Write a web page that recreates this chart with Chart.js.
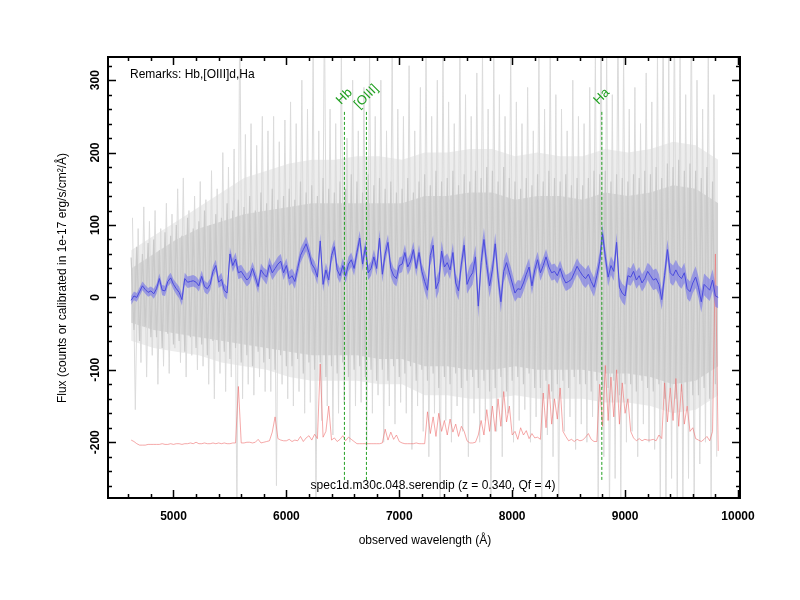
<!DOCTYPE html>
<html>
<head>
<meta charset="utf-8">
<script src="https://cdn.jsdelivr.net/npm/chart.js@4"></script>
<style>
  body { margin: 0; background: #fff; }
</style>
</head>
<body>
<canvas id="spec" width="800" height="600"></canvas>
<script>
// 1-d spectrum grid: first wavelength and step (Angstrom)
const WAVE_START = 4625;
const WAVE_STEP = 25;

// smoothed flux (blue), one value per grid step, 8 per row = 200 A
const smoothFlux = [
  -4, 2, 0, 8, 16, 11, 7, 9,
  5, 12, 26, 10, 9, 22, 27, 18,
  12, 7, -3, 26, 21, 22, 23, 21,
  16, 29, 15, 12, 18, 36, 44, 21,
  25, 10, 6, 60, 44, 53, 34, 36,
  30, 24, 28, 40, 28, 15, 38, 32,
  28, 45, 34, 40, 46, 50, 34, 44,
  26, 30, 22, 40, 58, 66, 74, 62,
  46, 40, 28, 78, 18, 38, 24, 58,
  70, 38, 30, 44, 30, 46, 52, 40,
  62, 82, 46, 70, 34, 40, 56, 40,
  82, 32, 60, 76, 40, 30, 26, 44,
  46, 62, 42, 50, 66, 40, 62, 36,
  22, 10, 58, 72, 12, 22, 64, 42,
  48, 38, 62, 20, 9, 46, 72, 18,
  28, 34, 56, -12, 48, 80, 44, 16,
  38, 74, 28, -6, 36, 48, 34, 20,
  6, 12, 11, 20, 32, 42, 16, 38,
  52, 34, 44, 56, 42, 34, 36, 30,
  40, 28, 20, 22, 25, 34, 43, 36,
  30, 26, 32, 22, 14, 30, 50, 88,
  56, 28, 44, 36, 76, 14, 6, 2,
  30, 28, 36, 24, 30, 20, 26, 36,
  30, 24, 26, 18, -3, 30, 66, 34,
  30, 38, 30, 26, 34, 12, 8, 20,
  28, 14, -6, 18, 14, 10, 24, 2,
  0
];
// 1-sigma of the smoothed flux, one value per 200 A row
const smoothErr = [6, 7, 8, 8, 9, 9, 10, 10, 10, 10, 10, 11, 11, 14, 13, 16, 15, 12, 11, 11, 13, 13, 12, 14, 14, 15, 15];

// sky spectrum (red), same grid
const skyFlux = [
  -197, -199, -202, -204, -204, -204, -203, -203,
  -203, -203, -203, -202, -203, -203, -202, -203,
  -202, -202, -203, -202, -202, -201, -202, -200,
  -202, -202, -201, -202, -202, -201, -202, -201,
  -202, -201, -202, -202, -201, -201, -123, -201,
  -201, -200, -200, -201, -200, -196, -201, -200,
  -199, -198, -186, -165, -195, -197, -198, -198,
  -196, -199, -197, -198, -192, -199, -194, -191,
  -197, -189, -195, -92, -193, -185, -150, -197,
  -194, -199, -196, -191, -198, -193, -196, -199,
  -202, -202, -202, -202, -202, -202, -202, -202,
  -202, -201, -182, -197, -186, -196, -190, -199,
  -201, -202, -202, -202, -202, -201, -202, -202,
  -202, -158, -188, -165, -192, -160, -185, -170,
  -190, -168, -186, -175, -192, -178, -185, -198,
  -201, -201, -200, -190, -170, -190, -155, -185,
  -150, -185, -140, -178, -130, -172, -150, -190,
  -185, -196, -180, -190, -184, -195, -188, -194,
  -193, -196, -132, -180, -120, -175, -140, -168,
  -125, -185, -192, -198, -196, -199, -196, -198,
  -197, -193, -188, -196, -199, -199, -120, -178,
  -94, -170, -110, -165, -100, -175, -118, -160,
  -140, -185, -194, -198, -195, -198, -196, -197,
  -197, -196, -198, -190, -195, -118, -172, -125,
  -170, -112, -178, -120, -175, -150, -185, -180,
  -195, -197, -199, -196, -192, -198, -185, 60,
  -212
];

// raw spectrum (grey), envelopes one value per 200 A from 4625
// outer haze of the noise
const hazeHi = [65, 85, 105, 125, 145, 165, 175, 185, 190, 190, 195, 195, 190, 200, 200, 205, 205, 195, 200, 195, 195, 205, 200, 205, 215, 210, 190];
const hazeLo = [-60, -70, -75, -80, -90, -95, -100, -110, -115, -115, -115, -120, -120, -135, -135, -140, -140, -135, -140, -140, -140, -145, -145, -150, -160, -155, -135];
// where the pixels pile up
const bandHi = [40, 60, 80, 95, 105, 115, 120, 125, 130, 130, 130, 130, 130, 140, 140, 145, 145, 135, 140, 140, 135, 145, 140, 145, 155, 150, 130];
const bandLo = [-35, -45, -50, -55, -60, -65, -70, -75, -80, -80, -80, -85, -85, -95, -95, -100, -100, -95, -100, -100, -100, -105, -105, -110, -120, -115, -95];
// raw spectrum (grey), dense part: tops every 50 A from 4625, bottoms every 50 A from 4650
const coreHi = [
  55, 70, 60, 75,   80, 65, 90, 85,    100, 85, 110, 95,   105, 120, 100, 115,
  110, 130, 120, 135, 125, 140, 120, 145, 130, 150, 135, 140, 150, 135, 160, 145,
  155, 140, 165, 150, 145, 160, 150, 170, 160, 145, 170, 155, 165, 150, 160, 145,
  150, 165, 145, 160, 170, 155, 175, 160, 165, 175, 155, 170, 160, 175, 165, 180,
  175, 160, 180, 165, 160, 150, 165, 155, 170, 160, 175, 165, 160, 170, 155, 165,
  155, 165, 175, 170, 175, 160, 170, 165, 160, 170, 165, 175, 170, 180, 165, 185,
  180, 190, 175, 185, 175, 165, 180, 160
];
const coreLo = [
  -45, -60, -40, -55,   -55, -70, -50, -65,   -60, -75, -55, -70,   -65, -80, -60, -75,
  -75, -85, -70, -90,   -80, -95, -75, -90,   -85, -100, -80, -95,  -95, -85, -105, -90,
  -100, -90, -110, -95, -105, -90, -110, -100, -95, -110, -100, -115, -100, -115, -95, -110,
  -105, -95, -115, -100, -115, -105, -125, -110, -120, -105, -125, -115, -110, -125, -115, -130,
  -125, -110, -130, -115, -110, -120, -105, -125, -125, -115, -130, -120, -115, -125, -110, -120,
  -120, -130, -115, -125, -125, -115, -135, -120, -120, -130, -115, -125, -130, -120, -140, -125,
  -140, -130, -150, -135, -135, -125, -140, -120
];
// raw spectrum (grey), spikes: tops every 50 A from 4637, bottoms every 50 A from 4662
const rawHi = [
  110, 95, 125, 105,   120, 95, 130, 115,   150, 165, 120, 140,   160, 135, 175, 150,
  200, 180, 205, 400,  225, 240, 210, 250,  230, 250, 215, 245,   270, 240, 300, 260,
  340, 230, 400, 260,  240, 340, 220, 300,  230, 290, 340, 250,   300, 230, 340, 260,
  250, 320, 230, 290,  340, 250, 300, 340,  270, 240, 340, 280,   250, 310, 340, 260,
  340, 280, 250, 340,  270, 240, 290, 230,  340, 260, 340, 280,   260, 230, 300, 250,
  240, 290, 340, 400,  340, 280, 400, 340,  260, 290, 240, 310,   270, 340, 400, 340,
  400, 340, 280, 400,  300, 260, 340, 280
];
const rawLo = [
  -155, -90, -110, -80,   -120, -95, -105, -70,   -90, -110, -80, -100,   -95, -120, -140, -105,
  -130, -110, -300, -140, -120, -135, -110, -130, -130, -260, -120, -140, -150, -130, -160, -145,
  -300, -170, -150, -190, -160, -145, -200, -150, -145, -210, -160, -135, -200, -150, -175, -145,
  -160, -210, -150, -185, -220, -160, -300, -170, -200, -150, -185, -220, -160, -200, -170, -300,
  -185, -220, -160, -200, -170, -155, -200, -165, -300, -190, -220, -300, -185, -165, -210, -175,
  -200, -165, -300, -220, -300, -250, -300, -200, -185, -220, -175, -200, -210, -300, -300, -250,
  -300, -300, -250, -300, -230, -200, -300, -220
];

// emission line markers (observed wavelength, z = 0.340)
const lineNames = ['Hb', '[OIII]', 'Ha'];
const lineWaves = [6514, 6709, 8794];
const lineSpan = [-252, 258];

const xTicks = [5000, 6000, 7000, 8000, 9000, 10000];
const yTicks = [-200, -100, 0, 100, 200, 300];

const FONT = '"Liberation Sans", Arial, sans-serif';

const waveAt = i => WAVE_START + i * WAVE_STEP;
const blueLine = smoothFlux.map((v, i) => ({ x: waveAt(i), y: v }));
const blueHi = smoothFlux.map((v, i) => ({ x: waveAt(i), y: v + smoothErr[Math.floor(i / 8)] }));
const blueLo = smoothFlux.map((v, i) => ({ x: waveAt(i), y: v - smoothErr[Math.floor(i / 8)] }));
const skyLine = skyFlux.map((v, i) => ({ x: waveAt(i), y: v }));
const rowPts = arr => arr.map((v, i) => ({ x: WAVE_START + i * 200, y: v }));

function zigzag(tops, bottoms, start) {
  const pts = [];
  tops.forEach((v, i) => {
    pts.push({ x: start + i * 50, y: v });
    pts.push({ x: start + 25 + i * 50, y: bottoms[i] });
  });
  return pts;
}
const coreLine = zigzag(coreHi, coreLo, WAVE_START);
const spikeLine = zigzag(rawHi, rawLo, WAVE_START + 12);

const base = { pointRadius: 0, tension: 0, clip: 0, fill: false };

const datasets = [
  { ...base, data: rowPts(hazeLo), borderWidth: 0, order: 13 },                                  // 0
  { ...base, data: rowPts(hazeHi), borderWidth: 0, fill: 0, backgroundColor: '#ededed', order: 12 }, // 1
  { ...base, data: rowPts(bandLo), borderWidth: 0, order: 11 },                                  // 2
  { ...base, data: rowPts(bandHi), borderWidth: 0, fill: 2, backgroundColor: '#d3d3d3', order: 10 }, // 3
  { ...base, data: spikeLine, borderWidth: 1, borderColor: '#dbdbdb', order: 9 },                // 4
  { ...base, data: coreLine, borderWidth: 1.2, borderColor: '#c9c9c9', order: 8 },               // 5
  { ...base, data: skyLine, borderWidth: 0.8, borderColor: 'rgba(238,110,110,0.75)', order: 6 }, // 6
  { ...base, data: blueLo, borderWidth: 0, order: 5 },                                            // 7
  { ...base, data: blueHi, borderWidth: 0, fill: 7, backgroundColor: 'rgba(105,105,235,0.55)', order: 4 }, // 8
  { ...base, data: blueLine, borderWidth: 1, borderColor: '#4a4ade', order: 3 }                   // 9
];
lineWaves.forEach(w => {
  datasets.push({ ...base, data: [{ x: w, y: lineSpan[0] }, { x: w, y: lineSpan[1] }],
    borderWidth: 1, borderColor: '#22a022', borderDash: [3, 2], order: 1 });
});

const decor = {
  id: 'decor',
  afterDraw(chart) {
    const { ctx, chartArea: a, scales: { x, y } } = chart;
    ctx.save();
    ctx.strokeStyle = '#000';
    // inward ticks on all four sides
    ctx.lineWidth = 1.5;
    ctx.beginPath();
    for (let w = 4600; w <= 10000; w += 200) {
      const px = Math.round(x.getPixelForValue(w)) + 0.5;
      const len = w % 1000 === 0 ? 8 : 4;
      ctx.moveTo(px, a.bottom); ctx.lineTo(px, a.bottom - len);
      ctx.moveTo(px, a.top); ctx.lineTo(px, a.top + len);
    }
    for (let v = -260; v <= 320; v += 20) {
      const py = Math.round(y.getPixelForValue(v)) + 0.5;
      const len = v % 100 === 0 ? 8 : 4;
      ctx.moveTo(a.left, py); ctx.lineTo(a.left + len, py);
      ctx.moveTo(a.right, py); ctx.lineTo(a.right - len, py);
    }
    ctx.stroke();
    ctx.lineWidth = 2;
    ctx.strokeRect(a.left, a.top, a.right - a.left, a.bottom - a.top);

    ctx.fillStyle = '#000';
    // y tick labels, rotated
    ctx.font = 'bold 12px ' + FONT;
    ctx.textAlign = 'center';
    ctx.textBaseline = 'middle';
    yTicks.forEach(v => {
      ctx.save();
      ctx.translate(96, y.getPixelForValue(v));
      ctx.rotate(-Math.PI / 2);
      ctx.fillText(String(v), 0, 0);
      ctx.restore();
    });

    ctx.font = '12px ' + FONT;
    ctx.textBaseline = 'alphabetic';
    ctx.save();
    ctx.translate(66, 278);
    ctx.rotate(-Math.PI / 2);
    ctx.fillText('Flux (counts or calibrated in 1e-17 erg/s/cm\u00b2/\u00c5)', 0, 0);
    ctx.restore();
    ctx.fillText('observed wavelength (\u00c5)', 425, 544);
    ctx.fillText('spec1d.m30c.048.serendip (z = 0.340, Qf = 4)', 433, 489);
    ctx.textAlign = 'left';
    ctx.fillText('Remarks: Hb,[OIII]d,Ha', 130, 78);

    // line labels
    ctx.fillStyle = '#22a022';
    ctx.font = '13px ' + FONT;
    ctx.textAlign = 'center';
    ctx.textBaseline = 'middle';
    lineWaves.forEach((w, i) => {
      ctx.save();
      ctx.translate(x.getPixelForValue(w), y.getPixelForValue(lineSpan[1]) - 14);
      ctx.rotate(-Math.PI / 4);
      ctx.fillText(lineNames[i], 0, 0);
      ctx.restore();
    });
    ctx.restore();
  }
};

new Chart(document.getElementById('spec'), {
  type: 'line',
  data: { datasets },
  options: {
    responsive: false,
    animation: false,
    devicePixelRatio: 1,
    parsing: false,
    layout: { padding: { top: 57, right: 60, left: 0, bottom: 0 } },
    plugins: { legend: { display: false }, tooltip: { enabled: false } },
    scales: {
      x: {
        type: 'linear', min: 4420, max: 10018,
        grid: { display: false, drawTicks: false },
        border: { display: false },
        afterFit: s => { s.height = 102; },
        afterBuildTicks: s => { s.ticks = xTicks.map(v => ({ value: v })); },
        ticks: { color: '#000', font: { family: FONT, size: 12, weight: 'bold' }, padding: 11,
          maxRotation: 0, autoSkip: false, callback: v => String(v) }
      },
      y: {
        type: 'linear', min: -277, max: 332,
        grid: { display: false, drawTicks: false },
        border: { display: false },
        afterFit: s => { s.width = 108; },
        ticks: { display: false }
      }
    }
  },
  plugins: [decor]
});
</script>
</body>
</html>
